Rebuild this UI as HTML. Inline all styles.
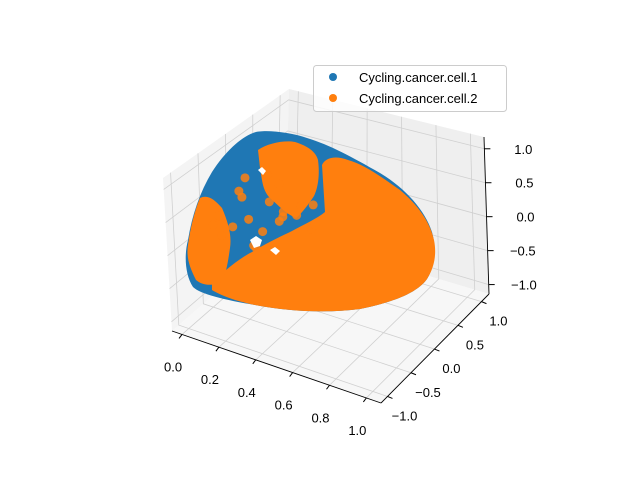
<!DOCTYPE html>
<html><head><meta charset="utf-8"><style>
body{margin:0;background:#fff}
svg{display:block;font-family:"Liberation Sans","DejaVu Sans",sans-serif}
</style></head><body>
<svg id="chart" width="640" height="480" viewBox="0 0 640 480">
<g id="panes"></g>
<g id="grid"></g>
<g id="data">
 <path fill="#1f77b4" d="M253,133 C262,129 290,132 307,138 C330,145 352,157 380,173 C405,188 425,210 432,232 C437,250 434,268 427,279 C418,292 395,302 360,309 C330,313 290,312 255,305 C225,300 200,294 193,287 C185,275 184,255 188,240 C192,215 200,192 212,172 C225,152 240,138 253,133 Z"/>
 <path fill="#ff7f0e" d="M212,283 C225,270 240,258 252,252 C268,242 282,236 292,231 C305,224 318,218 325,212 L322,165 C325,158 335,155 348,160 C365,165 380,176 400,190 C418,205 430,222 434,240 C437,255 434,268 427,279 C418,292 395,302 360,309 C330,313 290,312 255,305 C235,301 220,295 212,290 Z"/>
 <path fill="#ff7f0e" d="M258,150 C268,143 285,140 295,142 C308,146 316,152 318,160 C320,175 318,188 314,196 C308,205 302,213 296,218 C286,214 278,205 270,198 C262,190 262,178 260,168 Z"/>
 <path fill="#ff7f0e" d="M200,198 C208,194 215,200 222,208 C228,222 232,235 230,248 C228,262 226,274 222,282 C213,286 203,286 196,280 C190,268 186,258 188,245 C190,230 194,212 200,198 Z"/>
 <g id="dots"></g>
 <path fill="#fff" d="M250,240 l6,-4 l6,4 l-2,6 l-6,2 z M270,250 l5,-3 l5,4 l-4,4 z M258,170 l4,-3 l4,4 l-3,4 z"/>
</g>
<g id="axes"></g>
<g>
 <rect x="313.5" y="65.5" width="193" height="46" rx="3" fill="#fff" fill-opacity="0.8" stroke="#ccc"/>
 <circle cx="333" cy="77" r="4" fill="#1f77b4"/>
 <text x="359" y="82" font-size="13" fill="#000">Cycling.cancer.cell.1</text>
 <circle cx="333" cy="98" r="4" fill="#ff7f0e"/>
 <text x="359" y="103" font-size="13" fill="#000">Cycling.cancer.cell.2</text>
</g>
</svg>
<script>
const xTicks=[0.0,0.2,0.4,0.6,0.8,1.0];
const xTickLabels=["0.0","0.2","0.4","0.6","0.8","1.0"];
const yTicks=[-1.0,-0.5,0.0,0.5,1.0];
const yTickLabels=["\u22121.0","\u22120.5","0.0","0.5","1.0"];
const zTicks=[-1.0,-0.5,0.0,0.5,1.0];
const zTickLabels=["\u22121.0","\u22120.5","0.0","0.5","1.0"];
const dotX=[0.05,0.08,0.12,0.15,0.22,0.28,0.32,0.35,0.18,0.1,0.4,0.45,0.3,0.2,0.25,0.5,0.55,0.38,0.42,0.14,0.06,0.33];
const dotY=[0.6,0.3,0.8,0.5,0.2,0.7,0.9,0.4,0.1,0.9,0.6,0.2,0.3,0.55,0.45,0.35,0.5,0.15,0.75,0.65,0.1,0.05];
const dotZ=[0.3,0.5,0.2,0.6,0.4,0.1,0.3,0.5,0.7,0.4,0.6,0.2,0.8,0.35,0.15,0.7,0.55,0.45,0.65,0.25,0.55,0.2];
const NS="http://www.w3.org/2000/svg";
function el(t,a,p){const e=document.createElementNS(NS,t);for(const k in a)e.setAttribute(k,a[k]);p.appendChild(e);return e;}
const LB=[172,331],BB=[285,233],RB=[489,294],FB=[381,403],LT=[163,178],BT=[289,89],RT=[484,137];
function lerp(a,b,t){return [a[0]+(b[0]-a[0])*t,a[1]+(b[1]-a[1])*t];}
const fx=v=>0.048+0.882*v;
const fy=v=>0.06+0.87*(v+1)/2;
const fz=v=>0.06+0.865*(v+1)/2;
const panes=document.getElementById('panes'),grid=document.getElementById('grid'),axes=document.getElementById('axes');
const pp=(...p)=>p.map(q=>q.join(',')).join(' ');
let e;
e=el('polygon',{points:pp(LT,BT,BB,LB),fill:'#f4f4f4'},panes);

e=el('polygon',{points:pp(BT,RT,RB,BB),fill:'#efefef'},panes);

e=el('polygon',{points:pp(LB,BB,RB,FB),fill:'#f7f7f7'},panes);

const gs={stroke:'#d0d0d0','stroke-width':0.8};
xTicks.forEach(v=>{const t=fx(v);const a=lerp(LB,FB,t),b=lerp(BB,RB,t),c=lerp(BT,RT,t);
 e=el('polyline',Object.assign({points:pp(a,b,c),fill:'none'},gs),grid);
 });
yTicks.forEach(v=>{const t=fy(v);const a=lerp(FB,RB,t),b=lerp(LB,BB,t),c=lerp(LT,BT,t);
 e=el('polyline',Object.assign({points:pp(a,b,c),fill:'none'},gs),grid);
 });
zTicks.forEach(v=>{const t=fz(v);const a=lerp(LB,LT,t),b=lerp(BB,BT,t),c=lerp(RB,RT,t);
 e=el('polyline',Object.assign({points:pp(a,b,c),fill:'none'},gs),grid);
 });
[[LB,FB,'x-axis-line'],[FB,RB,'y-axis-line'],[RB,RT,'z-axis-line']].forEach(([a,b,n])=>{
 e=el('line',{x1:a[0],y1:a[1],x2:b[0],y2:b[1],stroke:'#000','stroke-width':0.9},axes);
 });
xTicks.forEach((v,i)=>{const p=lerp(LB,FB,fx(v));
 e=el('line',{x1:p[0],y1:p[1],x2:p[0]-3,y2:p[1]+4,stroke:'#000'},axes);
 
 e=el('text',{x:p[0]-9,y:p[1]+37,'font-size':13,'text-anchor':'middle'},axes);e.textContent=xTickLabels[i];
 });
yTicks.forEach((v,i)=>{const p=lerp(FB,RB,fy(v));
 e=el('line',{x1:p[0],y1:p[1],x2:p[0]+5,y2:p[1]+2,stroke:'#000'},axes);
 
 e=el('text',{x:p[0]+17,y:p[1]+24,'font-size':13,'text-anchor':'middle'},axes);e.textContent=yTickLabels[i];
 });
zTicks.forEach((v,i)=>{const p=lerp(RB,RT,fz(v));
 e=el('line',{x1:p[0],y1:p[1],x2:p[0]+6,y2:p[1],stroke:'#000'},axes);
 
 e=el('text',{x:p[0]+48,y:p[1]+5,'font-size':13,'text-anchor':'end'},axes);e.textContent=zTickLabels[i];
 });
function proj(x,y,z){const f=lerp(lerp(LB,FB,fx(x)),lerp(BB,RB,fx(x)),1-fy(y));const h=(RT[1]-RB[1])*fz(z);return [f[0],f[1]+h];}
const dots=document.getElementById('dots');
dotX.forEach((x,i)=>{const p=proj(x,dotY[i],dotZ[i]);
 e=el('circle',{cx:p[0],cy:p[1],r:4.5,fill:'#ff7f0e','fill-opacity':0.85},dots);
 });
</script>
</body></html>
